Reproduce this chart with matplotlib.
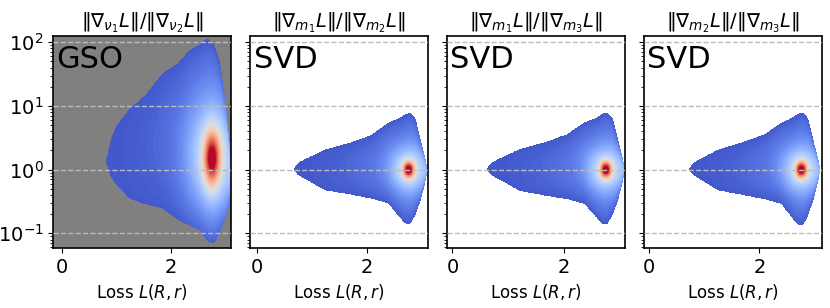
import numpy as np
import matplotlib
matplotlib.use("Agg")
from matplotlib import pyplot as plt
from matplotlib.ticker import MultipleLocator, LogLocator

# titles and method labels per panel
titles = [
    r"$\|\nabla_{\nu_1} L\|/\|\nabla_{\nu_2} L\|$",
    r"$\|\nabla_{m_1} L\|/\|\nabla_{m_2} L\|$",
    r"$\|\nabla_{m_1} L\|/\|\nabla_{m_3} L\|$",
    r"$\|\nabla_{m_2} L\|/\|\nabla_{m_3} L\|$",
]
methods = ["GSO", "SVD", "SVD", "SVD"]

# outline of each density cloud, log10 of the ratio vs loss
env_x = [
    [0.82, 0.9, 1.0, 1.25, 1.55, 1.85, 2.15, 2.35, 2.55, 2.68, 2.8, 2.9, 3.0, 3.07, 3.12],
    [0.67, 0.75, 0.88, 1.24, 1.67, 2.09, 2.39, 2.58, 2.7, 2.79, 2.88, 2.97, 3.05, 3.1],
    [0.62, 0.70, 0.85, 1.22, 1.65, 2.07, 2.38, 2.58, 2.7, 2.78, 2.88, 2.97, 3.05, 3.1],
    [0.72, 0.80, 0.92, 1.26, 1.68, 2.10, 2.40, 2.58, 2.7, 2.79, 2.88, 2.97, 3.05, 3.1],
]
env_upper = [
    [0.13, 0.45, 0.67, 0.95, 1.17, 1.50, 1.67, 1.87, 1.96, 2.06, 1.95, 1.70, 1.10, 0.50, -0.05],
    [0.0, 0.10, 0.16, 0.31, 0.41, 0.54, 0.73, 0.80, 0.86, 0.89, 0.80, 0.47, 0.20, 0.0],
    [0.0, 0.10, 0.17, 0.32, 0.42, 0.55, 0.74, 0.80, 0.87, 0.89, 0.80, 0.48, 0.20, 0.0],
    [0.0, 0.10, 0.16, 0.31, 0.42, 0.55, 0.73, 0.80, 0.87, 0.89, 0.80, 0.47, 0.20, 0.0],
]
env_lower = [
    [0.13, -0.10, -0.22, -0.45, -0.54, -0.60, -0.79, -0.87, -0.95, -1.12, -1.15, -0.98, -0.78, -0.55, -0.05],
    [0.0, -0.08, -0.14, -0.32, -0.38, -0.45, -0.52, -0.72, -0.84, -0.84, -0.70, -0.48, -0.22, 0.0],
    [0.0, -0.08, -0.15, -0.33, -0.40, -0.46, -0.53, -0.73, -0.85, -0.85, -0.70, -0.48, -0.22, 0.0],
    [0.0, -0.08, -0.14, -0.32, -0.39, -0.46, -0.53, -0.73, -0.86, -0.86, -0.71, -0.48, -0.22, 0.0],
]
# density peak: loss, log10 ratio, widths of core and halo
peak_x = [2.76, 2.76, 2.76, 2.76]
peak_y = [0.18, 0.0, 0.0, 0.0]
core_sx = [0.10, 0.065, 0.065, 0.065]
core_sy = [0.30, 0.085, 0.085, 0.085]
halo_sx = [0.30, 0.22, 0.22, 0.22]
halo_sy = [0.55, 0.22, 0.22, 0.22]
xlims = [(-0.16, 3.11), (-0.13, 3.11), (-0.10, 3.10), (-0.10, 3.13)]


def smooth(a, n=9):
    k = np.ones(n) / n
    pad = np.pad(a, n // 2, mode="edge")
    return np.convolve(pad, k, mode="valid")


fig, axes = plt.subplots(1, 4, figsize=(8.3, 3.08), dpi=100, sharey=True)
fig.subplots_adjust(left=0.064, right=0.990, bottom=0.195, top=0.883, wspace=0.107)

gx = np.linspace(-0.2, 3.2, 600)
gly = np.linspace(-1.35, 2.25, 600)
X, LY = np.meshgrid(gx, gly)

for i, ax in enumerate(axes):
    ex = np.array(env_x[i])
    inside_x = (gx >= ex[0]) & (gx <= ex[-1])
    up = smooth(np.interp(gx, ex, env_upper[i]))
    lo = smooth(np.interp(gx, ex, env_lower[i]))
    mask = (LY < up[None, :]) & (LY > lo[None, :]) & inside_x[None, :]

    # relative depth inside the outline, 0 at the edge, 1 in the middle
    width = np.maximum(up - lo, 1e-6)[None, :]
    depth = np.clip(4 * (LY - lo[None, :]) * (up[None, :] - LY) / width**2, 0, 1)
    ramp = np.clip((X - ex[0]) / (peak_x[i] - ex[0]), 0, 1)
    base = 0.03 + 0.14 * ramp**2 * depth
    halo = np.exp(-0.5 * ((X - peak_x[i]) / halo_sx[i]) ** 2
                  - 0.5 * ((LY - peak_y[i]) / halo_sy[i]) ** 2)
    core = np.exp(-0.5 * ((X - peak_x[i]) / core_sx[i]) ** 2
                  - 0.5 * ((LY - peak_y[i]) / core_sy[i]) ** 2)
    field = np.minimum(base + 0.32 * halo + 0.6 * core, 0.999)
    field = np.ma.masked_where(~mask, field)

    ax.set_yscale("log")
    ax.contourf(X, 10**LY, field, levels=np.linspace(0.0, 1.0, 120),
                cmap="coolwarm", vmin=0, vmax=1.0, zorder=1)
    for v in [0.1, 1, 10, 100]:
        ax.axhline(v, color="#bcbcbc", ls="--", lw=1.0, zorder=3)

    if i == 0:
        ax.set_facecolor("#808080")
    ax.set_title(titles[i], fontsize=14)
    ax.text(0.02, 0.96, methods[i], transform=ax.transAxes, fontsize=22,
            va="top", ha="left", zorder=4)
    ax.set_xlim(*xlims[i])
    ax.set_ylim(0.059, 125)
    ax.xaxis.set_major_locator(MultipleLocator(2))
    ax.yaxis.set_major_locator(LogLocator(base=10, numticks=10))
    ax.yaxis.set_minor_locator(LogLocator(base=10, subs=np.arange(2, 10) * 0.1, numticks=20))
    ax.tick_params(labelsize=14)
    ax.set_xlabel(r"Loss $L(R,r)$", fontsize=12)
    for s in ax.spines.values():
        s.set_linewidth(1.2)

fig.savefig("out.png", dpi=100)
